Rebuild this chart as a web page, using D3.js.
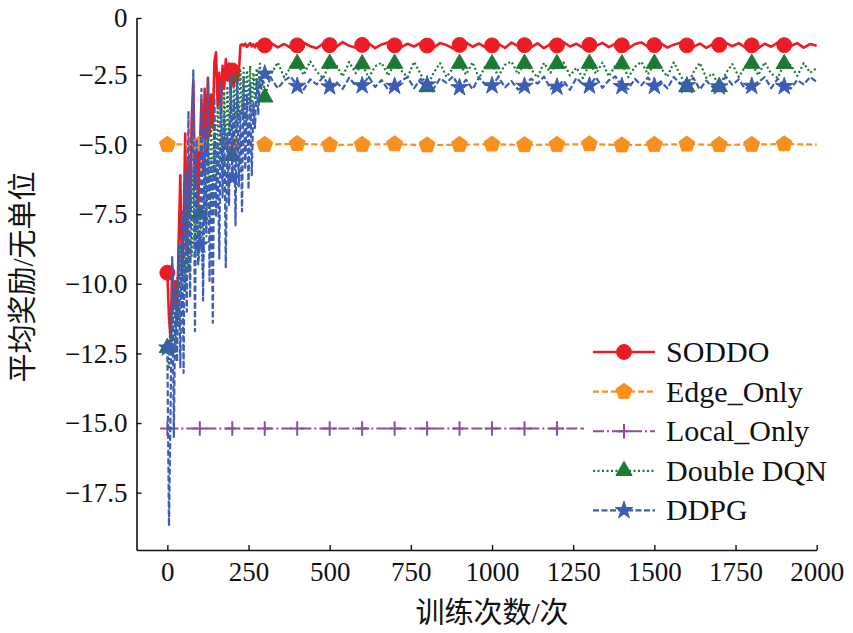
<!DOCTYPE html>
<html>
<head>
<meta charset="utf-8">
<script src="https://cdn.jsdelivr.net/npm/d3@7"></script>
<style>
  body { margin: 0; background: #fff; }
  svg { display: block; }
</style>
</head>
<body>
<div id="container_reward"></div>
<script>
// episodes: every 5 while learning, every 20 on the plateau
const episodes = [0, 5, 10, 15, 20, 25, 30, 35, 40, 45, 50, 55, 60, 65, 70, 75, 80, 85, 90, 95,
  100, 105, 110, 115, 120, 125, 130, 135, 140, 145, 150, 155, 160, 165, 170, 175, 180, 185, 190, 195,
  200, 205, 210, 215, 220, 225, 230, 235, 240, 245, 250, 255, 260, 265, 270, 275, 280, 285, 290, 295, 300,
  320, 340, 360, 380, 400, 420, 440, 460, 480, 500, 520, 540, 560, 580, 600, 620, 640, 660, 680, 700,
  720, 740, 760, 780, 800, 820, 840, 860, 880, 900, 920, 940, 960, 980, 1000, 1020, 1040, 1060, 1080, 1100,
  1120, 1140, 1160, 1180, 1200, 1220, 1240, 1260, 1280, 1300, 1320, 1340, 1360, 1380, 1400, 1420, 1440, 1460, 1480, 1500,
  1520, 1540, 1560, 1580, 1600, 1620, 1640, 1660, 1680, 1700, 1720, 1740, 1760, 1780, 1800, 1820, 1840, 1860, 1880, 1900,
  1920, 1940, 1960, 1980, 2000];

const soddo = [-9.6, -11.2, -12.0, -9.3, -10.9, -9.9, -11.3, -8.4, -6.1, -9.6, -8.2, -4.6, -8.9, -5.6, -7.4, -4.1, -2.7, -6.6, -5.0, -7.2,
  -5.2, -3.4, -6.0, -3.0, -5.4, -2.6, -4.7, -3.2, -4.4, -1.9, -1.5, -3.6, -2.4, -3.9, -2.1, -3.0, -1.8, -2.7, -2.0, -3.1,
  -2.3, -2.9, -2.2, -2.8, -2.5, -1.2, -1.15, -1.22, -1.12, -1.27, -1.18, -1.10, -1.25, -1.15, -1.29, -1.12, -1.20, -1.26, -1.09, -1.22, -1.20,
  -1.10, -1.29, -1.14, -1.31, -1.20, -1.08, -1.24, -1.33, -1.12, -1.19, -1.27, -1.06, -1.22, -1.30, -1.18, -1.11, -1.32, -1.16, -1.07, -1.20,
  -1.28, -1.13, -1.25, -1.09, -1.21, -1.30, -1.10, -1.19, -1.33, -1.18, -1.07, -1.26, -1.12, -1.29, -1.20, -1.14, -1.31, -1.08, -1.23, -1.19,
  -1.29, -1.11, -1.32, -1.15, -1.20, -1.06, -1.25, -1.13, -1.30, -1.18, -1.22, -1.09, -1.28, -1.12, -1.20, -1.33, -1.14, -1.07, -1.26, -1.19,
  -1.11, -1.30, -1.17, -1.08, -1.20, -1.27, -1.12, -1.31, -1.15, -1.18, -1.09, -1.24, -1.10, -1.29, -1.20, -1.32, -1.13, -1.26, -1.08, -1.19,
  -1.23, -1.10, -1.30, -1.14, -1.22];

const doubleDqn = [-12.3, -13.0, -11.0, -12.6, -10.4, -12.2, -9.8, -11.5, -8.7, -10.9, -8.0, -10.3, -7.2, -9.6, -6.6, -9.0, -5.9, -8.4, -6.8, -9.1,
  -7.5, -8.6, -9.8, -5.5, -8.3, -4.8, -7.6, -4.2, -7.0, -3.9, -6.4, -3.6, -5.8, -3.3, -6.1, -3.1, -5.2, -2.9, -4.7, -2.7,
  -5.4, -2.6, -4.5, -2.4, -4.1, -2.3, -3.9, -2.2, -4.2, -2.3, -3.6, -2.1, -4.0, -2.4, -3.4, -2.2, -3.1, -2.0, -2.8, -2.3, -3.3,
  -2.45, -1.95, -2.58, -2.15, -2.00, -2.50, -1.90, -2.35, -2.62, -2.00, -2.05, -2.55, -1.93, -2.42, -2.02, -2.60, -2.12, -1.96, -2.52, -2.00,
  -2.30, -2.58, -1.92, -2.45, -2.93, -2.40, -1.98, -2.57, -2.20, -2.00, -2.48, -1.94, -2.62, -2.10, -2.02, -2.55, -2.05, -1.91, -2.46, -2.00,
  -2.25, -2.59, -1.97, -2.40, -2.01, -1.93, -2.52, -2.18, -2.61, -2.00, -2.44, -1.96, -2.55, -2.08, -2.02, -2.58, -2.14, -1.92, -2.47, -2.00,
  -2.20, -2.56, -1.95, -2.50, -2.93, -2.38, -1.97, -2.60, -2.44, -2.93, -2.42, -2.02, -2.57, -2.12, -2.00, -2.51, -1.94, -2.45, -2.60, -2.01,
  -2.06, -2.53, -1.98, -2.40, -2.20];

const ddpg = [-12.3, -18.7, -14.5, -9.0, -15.5, -10.2, -12.8, -8.6, -13.0, -7.4, -13.2, -6.0, -11.0, -3.8, -10.5, -5.2, -2.3, -11.7, -4.8, -9.3,
  -8.6, -3.0, -10.6, -4.4, -8.2, -2.6, -9.9, -5.6, -11.4, -3.3, -7.6, -4.9, -9.1, -2.8, -6.9, -3.9, -9.4, -4.6, -7.2, -2.5,
  -6.2, -3.4, -7.9, -2.7, -6.5, -3.8, -7.4, -2.6, -5.9, -3.2, -6.6, -2.8, -6.1, -3.5, -4.4, -2.7, -3.9, -2.6, -3.0, -2.7, -2.45,
  -2.62, -2.98, -2.70, -2.55, -2.90, -3.02, -2.66, -2.84, -2.57, -2.92, -2.74, -3.00, -2.60, -2.88, -2.88, -2.56, -2.93, -2.68, -3.03, -2.90,
  -2.71, -2.58, -2.97, -2.64, -2.85, -2.99, -2.62, -2.78, -2.55, -2.95, -2.67, -3.01, -2.59, -2.86, -2.88, -2.57, -2.94, -2.72, -3.02, -2.90,
  -2.63, -2.81, -2.56, -2.99, -2.93, -2.70, -3.03, -2.61, -2.83, -2.89, -2.58, -2.96, -2.69, -2.55, -2.91, -3.00, -2.64, -2.87, -2.59, -2.90,
  -2.73, -2.98, -2.57, -2.82, -2.88, -2.60, -3.02, -2.70, -2.94, -2.92, -2.56, -2.85, -2.66, -3.00, -2.90, -2.75, -2.58, -2.97, -2.63, -2.91,
  -2.99, -2.68, -2.84, -2.57, -2.75];

// the two baselines barely move, read every 100 episodes
const coarseEpisodes = [0, 100, 200, 300, 400, 500, 600, 700, 800, 900, 1000, 1100, 1200, 1300, 1400, 1500, 1600, 1700, 1800, 1900, 2000];
const edgeOnly = [-5.0, -4.98, -5.02, -5.0, -4.97, -5.01, -5.0, -4.98, -5.02, -5.0, -4.99, -5.01, -5.0, -4.98, -5.02, -5.0, -4.99, -5.01, -5.0, -4.98, -5.0];
const localOnly = [-15.2, -15.2, -15.2, -15.2, -15.2, -15.2, -15.2, -15.2, -15.2, -15.2, -15.2, -15.2, -15.2, -15.2, -15.2, -15.2, -15.2, -15.2, -15.2, -15.2, -15.2];

const xTicks = [0, 250, 500, 750, 1000, 1250, 1500, 1750, 2000];
const yTicks = [0, -2.5, -5.0, -7.5, -10.0, -12.5, -15.0, -17.5];
const seriesNames = ['SODDO', 'Edge_Only', 'Local_Only', 'Double DQN', 'DDPG'];
const xLabel = '训练次数/次';
const yLabel = '平均奖励/无单位';

const serifFont = '"Liberation Serif", "DejaVu Serif", serif';
const cjkFont = '"Liberation Serif", "Noto Sans CJK SC", serif';

const width = 853, height = 633;

const svg = d3.select('#container_reward')
  .append('svg')
  .attr('id', 'svg_reward')
  .attr('width', width)
  .attr('height', height);

const xScale = d3.scaleLinear()
  .domain([-95, 2000])
  .range([136.5, 816.7]);

// the printed axis puts 0 closer to -2.5 than the other steps, so two pieces
const yScale = d3.scaleLinear()
  .domain([-19.56, -2.5, 0])
  .range([550, 75, 18]);

// custom marker shapes
const symbolPentagon = {
  draw(context, size) {
    const r = Math.sqrt(size / 2.378);
    for (let i = 0; i < 5; i++) {
      const a = -Math.PI / 2 + i * 2 * Math.PI / 5;
      if (i === 0) context.moveTo(r * Math.cos(a), r * Math.sin(a));
      else context.lineTo(r * Math.cos(a), r * Math.sin(a));
    }
    context.closePath();
  }
};
const symbolCrossLine = {
  draw(context, size) {
    const h = Math.sqrt(size) / 2;
    context.moveTo(-h, 0); context.lineTo(h, 0);
    context.moveTo(0, -h); context.lineTo(0, h);
  }
};

const zip = (xs, vs) => xs.map((ep, i) => ({ ep, v: vs[i] }));

const series = [
  { name: seriesNames[0], points: zip(episodes, soddo), color: '#ED1C24', dash: null, width: 2.6,
    symbol: d3.symbolCircle, size: 175, filled: true },
  { name: seriesNames[1], points: zip(coarseEpisodes, edgeOnly), color: '#F7901E', dash: '6,3', width: 2.2,
    symbol: symbolPentagon, size: 165, filled: true },
  { name: seriesNames[2], points: zip(coarseEpisodes, localOnly), color: '#8E4CA2', dash: '11,3,2,3', width: 2,
    symbol: symbolCrossLine, size: 210, filled: false },
  { name: seriesNames[3], points: zip(episodes, doubleDqn), color: '#1C7A36', dash: '2,2.5', width: 2.2,
    symbol: d3.symbolTriangle, size: 115, filled: true },
  { name: seriesNames[4], points: zip(episodes, ddpg), color: '#3C5DB6', dash: '6,2.5', width: 2.2,
    symbol: d3.symbolStar, size: 95, filled: true }
];

const line = d3.line()
  .defined(d => d.v !== undefined)
  .x(d => xScale(d.ep))
  .y(d => yScale(d.v));

const plot = svg.append('g').attr('class', 'plot');

series.forEach(s => {
  const g = plot.append('g').attr('class', 'series');

  g.append('path')
    .datum(s.points)
    .attr('d', line)
    .style('fill', 'none')
    .style('stroke', s.color)
    .style('stroke-width', s.width)
    .style('stroke-linejoin', 'round')
    .style('stroke-dasharray', s.dash);

  g.selectAll('.marker')
    .data(s.points.filter(d => d.ep % 100 === 0 && d.ep < 2000))
    .enter()
    .append('path')
    .attr('class', 'marker')
    .attr('transform', d => `translate(${xScale(d.ep)}, ${yScale(d.v)})`)
    .attr('d', d3.symbol(s.symbol, s.size))
    .style('fill', s.filled ? s.color : 'none')
    .style('stroke', s.color)
    .style('stroke-width', s.filled ? 1 : 2);
});

// axes, ticks pointing inward
svg.append('g')
  .attr('class', 'x_axis')
  .attr('transform', `translate(0, ${yScale.range()[0]})`)
  .call(d3.axisBottom(xScale)
    .tickValues(xTicks)
    .tickFormat(d3.format('d'))
    .tickSizeInner(-5)
    .tickSizeOuter(0)
    .tickPadding(12));

svg.append('g')
  .attr('class', 'y_axis')
  .attr('transform', `translate(${xScale.range()[0]}, 0)`)
  .call(d3.axisLeft(yScale)
    .tickValues(yTicks)
    .tickFormat(d => d === 0 ? '0' : d3.format('.1f')(d))
    .tickSizeInner(-5)
    .tickSizeOuter(0)
    .tickPadding(9));

svg.selectAll('.x_axis, .y_axis')
  .attr('font-family', null)
  .attr('font-size', null);
svg.selectAll('.x_axis text, .y_axis text')
  .style('font-family', serifFont)
  .style('font-size', '27px')
  .style('fill', '#111');
svg.selectAll('.domain').style('stroke', '#111').style('stroke-width', 1.6);
svg.selectAll('.tick line').style('stroke', '#111').style('stroke-width', 1.4);

// axis titles
svg.append('text')
  .attr('x', 492)
  .attr('y', 623)
  .attr('text-anchor', 'middle')
  .style('font-family', cjkFont)
  .style('font-size', '29px')
  .style('fill', '#111')
  .text(xLabel);

svg.append('text')
  .attr('transform', 'translate(33, 277) rotate(-90)')
  .attr('text-anchor', 'middle')
  .style('font-family', cjkFont)
  .style('font-size', '29px')
  .style('fill', '#111')
  .text(yLabel);

// legend on a white box
const legend = svg.append('g').attr('class', 'legend');

legend.append('rect')
  .attr('x', 584)
  .attr('y', 330)
  .attr('width', 262)
  .attr('height', 200)
  .style('fill', '#fff');

series.forEach((s, i) => {
  const rowY = 352 + i * 39.6;
  const item = legend.append('g').attr('transform', `translate(0, ${rowY})`);

  item.append('line')
    .attr('x1', 593)
    .attr('x2', 655)
    .style('stroke', s.color)
    .style('stroke-width', s.width)
    .style('stroke-dasharray', s.dash);

  item.append('path')
    .attr('transform', 'translate(624, 0)')
    .attr('d', d3.symbol(s.symbol, s.size))
    .style('fill', s.filled ? s.color : 'none')
    .style('stroke', s.color)
    .style('stroke-width', s.filled ? 1 : 2);

  item.append('text')
    .attr('x', 666)
    .attr('y', 10)
    .style('font-family', serifFont)
    .style('font-size', '30px')
    .style('fill', '#111')
    .text(s.name);
});
</script>
</body>
</html>
